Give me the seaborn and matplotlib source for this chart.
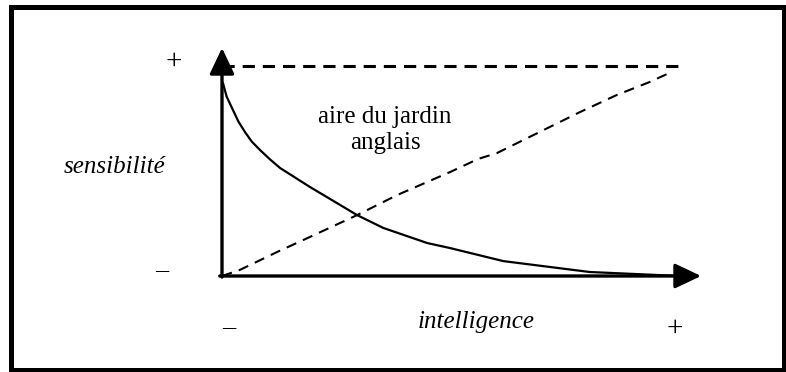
import matplotlib
matplotlib.use("Agg")
import matplotlib.pyplot as plt
import matplotlib.patches as mpatches
import pandas as pd
import seaborn as sns

sns.set_theme(style="white")
plt.rcParams['font.family'] = ['Liberation Serif', 'DejaVu Serif']
plt.rcParams['text.color'] = 'black'

# courbe pleine : sensibilité décroissante
solid_x = [0.002, 0.010, 0.024, 0.036, 0.050, 0.065, 0.083, 0.105, 0.127, 0.192,
           0.295, 0.352, 0.448, 0.498, 0.614, 0.803, 1.0]
solid_y = [0.920, 0.855, 0.790, 0.735, 0.686, 0.640, 0.600, 0.555, 0.514, 0.424,
           0.290, 0.229, 0.157, 0.133, 0.071, 0.019, 0.0]

# courbe pointillée : sensibilité croissante
dash_x = [0.0, 0.039, 0.120, 0.192, 0.295, 0.382, 0.498, 0.560, 0.600, 0.716, 0.782, 0.862, 0.934, 0.985]
dash_y = [0.0, 0.029, 0.114, 0.186, 0.290, 0.385, 0.495, 0.558, 0.585, 0.710, 0.781, 0.862, 0.924, 0.975]

# ligne plafond
top_x = [0.0, 1.0]
top_y = [1.0, 1.0]

axis_labels = ['intelligence', 'sensibilité']
area_label = 'aire du jardin\nanglais'

df_solid = pd.DataFrame({'x': solid_x, 'y': solid_y})
df_dash = pd.DataFrame({'x': dash_x, 'y': dash_y})
df_top = pd.DataFrame({'x': top_x, 'y': top_y})

fig = plt.figure(figsize=(7.86, 3.72), dpi=100)
ax = fig.add_axes([0, 0, 1, 1])
ax.set_xlim(-222 / 458, 564 / 458)
ax.set_ylim(-96 / 210, 276 / 210)
ax.axis('off')

sns.lineplot(data=df_solid, x='x', y='y', ax=ax, color='black', lw=1.6, sort=False)
sns.lineplot(data=df_dash, x='x', y='y', ax=ax, color='black', lw=1.5,
             linestyle=(0, (5, 3.5)), sort=False)
sns.lineplot(data=df_top, x='x', y='y', ax=ax, color='black', lw=2.2,
             linestyle=(0, (4, 2.6)), sort=False)

# axes avec flèches
arrow = dict(arrowstyle='-|>,head_length=0.8,head_width=0.38', lw=2.4,
             color='black', mutation_scale=20, shrinkA=0, shrinkB=0)
ax.annotate('', xy=(0, 1.086), xytext=(0, -0.005), arrowprops=arrow)
ax.annotate('', xy=(1.046, 0), xytext=(-0.005, 0), arrowprops=arrow)

# textes
ax.text(-0.1048, 1.019, '+', fontsize=21, ha='center', va='center', color='black')
ax.text(-0.131, 0.03, '–', fontsize=19, ha='center', va='center', color='black')
ax.text(0.015, -0.245, '–', fontsize=19, ha='center', va='center', color='black')
ax.text(0.989, -0.25, '+', fontsize=21, ha='center', va='center', color='black')
ax.text(0.356, 0.695, area_label, fontsize=18, ha='center', va='center',
        linespacing=1.2, color='black')
ax.text(-0.2336, 0.519, axis_labels[1], fontsize=18, style='italic',
        ha='center', va='center', color='black')
ax.text(0.555, -0.219, axis_labels[0], fontsize=18, style='italic',
        ha='center', va='center', color='black')

# cadre
frame = mpatches.Rectangle((10.5 / 786, 2 / 372), 773 / 786, 363.5 / 372,
                           transform=fig.transFigure, fill=False,
                           edgecolor='black', lw=3.6)
fig.patches.append(frame)

fig.savefig('out.png', dpi=100)
